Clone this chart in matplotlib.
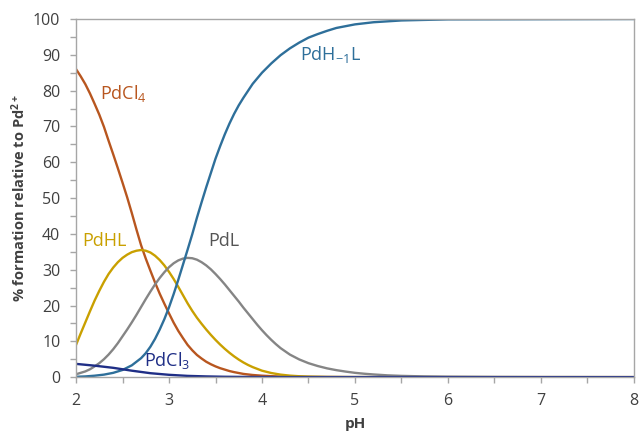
import matplotlib
matplotlib.use("Agg")
import matplotlib.pyplot as plt
from matplotlib.ticker import MultipleLocator

plt.rcParams["font.family"] = ["Open Sans", "DejaVu Sans"]
plt.rcParams["mathtext.default"] = "regular"

# values (% formation vs pH)
ph_cl4 = [2.0, 2.05, 2.1, 2.15, 2.2, 2.25, 2.3, 2.35, 2.4, 2.45, 2.5, 2.55,
          2.6, 2.65, 2.7, 2.75, 2.8, 2.85, 2.9, 2.95, 3.0, 3.05, 3.1, 3.15,
          3.2, 3.25, 3.3, 3.35, 3.4, 3.45, 3.5, 3.55, 3.6, 3.65, 3.7, 3.8,
          3.9, 4.0, 4.2, 4.5, 5.0, 8.0]
pdcl4 = [86, 84, 81.8, 79.2, 76.3, 73.3, 69.9, 66.0, 62.2, 58.3, 54.3, 50.2,
         45.8, 41.2, 36.8, 33.1, 29.7, 26.4, 23.3, 20.5, 17.8, 15.2, 12.9, 10.9,
         9.0, 7.5, 6.2, 5.2, 4.3, 3.6, 3.0, 2.5, 2.1, 1.7, 1.4, 0.9,
         0.6, 0.4, 0.15, 0.04, 0, 0]

ph_hl = [2.0, 2.05, 2.1, 2.15, 2.2, 2.25, 2.3, 2.35, 2.4, 2.45, 2.5, 2.55,
         2.6, 2.65, 2.7, 2.75, 2.8, 2.85, 2.9, 2.95, 3.0, 3.05, 3.1, 3.15,
         3.2, 3.25, 3.3, 3.35, 3.4, 3.45, 3.5, 3.55, 3.6, 3.65, 3.7, 3.75,
         3.8, 3.85, 3.9, 3.95, 4.0, 4.1, 4.2, 4.3, 4.4, 4.5, 4.7, 5.0, 8.0]
pdhl = [9.0, 12.2, 15.3, 18.4, 21.4, 24.1, 26.6, 28.8, 30.6, 32.1, 33.3, 34.2,
        34.9, 35.3, 35.5, 35.3, 34.8, 33.9, 32.7, 31.2, 29.4, 27.4, 25.2, 22.9,
        20.6, 18.5, 16.6, 14.9, 13.3, 11.8, 10.4, 9.1, 7.9, 6.8, 5.8, 4.9,
        4.1, 3.4, 2.8, 2.3, 1.8, 1.15, 0.7, 0.42, 0.25, 0.15, 0.05, 0.01, 0]

ph_l = [2.0, 2.05, 2.1, 2.15, 2.2, 2.25, 2.3, 2.35, 2.4, 2.45, 2.5, 2.55,
        2.6, 2.65, 2.7, 2.75, 2.8, 2.85, 2.9, 2.95, 3.0, 3.05, 3.1, 3.15,
        3.2, 3.25, 3.3, 3.35, 3.4, 3.45, 3.5, 3.55, 3.6, 3.65, 3.7, 3.75,
        3.8, 3.85, 3.9, 3.95, 4.0, 4.05, 4.1, 4.15, 4.2, 4.3, 4.4, 4.5,
        4.6, 4.7, 4.8, 4.9, 5.0, 5.1, 5.2, 5.35, 5.5, 5.75, 6.0, 6.5, 7.0, 8.0]
pdl = [0.8, 1.2, 1.6, 2.2, 3.0, 3.9, 5.0, 6.3, 7.8, 9.5, 11.4, 13.3,
       15.3, 17.4, 19.6, 21.8, 23.9, 25.9, 27.7, 29.3, 30.7, 31.8, 32.6, 33.1,
       33.3, 33.2, 32.8, 32.1, 31.2, 30.1, 28.8, 27.4, 25.9, 24.3, 22.7, 21.1,
       19.4, 17.8, 16.2, 14.6, 13.1, 11.7, 10.4, 9.2, 8.1, 6.3, 4.95, 3.9,
       3.1, 2.45, 1.95, 1.55, 1.2, 0.95, 0.75, 0.5, 0.35, 0.2, 0.11, 0.04, 0.01, 0]

ph_h1l = [2.0, 2.1, 2.2, 2.3, 2.4, 2.5, 2.6, 2.7, 2.75, 2.8, 2.85, 2.9, 2.95,
          3.0, 3.05, 3.1, 3.15, 3.2, 3.25, 3.3, 3.35, 3.4, 3.45, 3.5, 3.55,
          3.6, 3.65, 3.7, 3.75, 3.8, 3.9, 4.0, 4.1, 4.2, 4.3, 4.4, 4.5, 4.6,
          4.7, 4.8, 5.0, 5.2, 5.5, 6.0, 8.0]
pdh1l = [0.1, 0.2, 0.4, 0.7, 1.2, 2.0, 3.3, 5.3, 6.7, 8.5, 10.7, 13.3, 16.2,
         19.5, 23.2, 27.2, 31.4, 35.6, 39.9, 44.5, 48.8, 53.0, 57.0, 61.0, 64.5,
         67.8, 70.8, 73.5, 75.9, 78.0, 81.9, 85.0, 87.6, 89.9, 91.8, 93.4, 94.8,
         95.8, 96.7, 97.5, 98.5, 99.1, 99.6, 99.9, 100]

ph_cl3 = [2.0, 2.2, 2.4, 2.6, 2.8, 3.0, 3.2, 3.4, 3.6, 4.0, 8.0]
pdcl3 = [3.7, 3.2, 2.6, 1.8, 1.1, 0.65, 0.35, 0.2, 0.1, 0.02, 0]

c_cl4 = "#B8561F"
c_hl = "#C9A000"
c_l = "#858585"
c_h1l = "#2E6F9A"
c_cl3 = "#1F2E86"

fig = plt.figure(figsize=(6.39, 4.32), dpi=100)
ax = fig.add_axes([0.119, 0.127, 0.873, 0.829])

lw = 1.7
ax.plot(ph_cl4, pdcl4, color=c_cl4, lw=lw)
ax.plot(ph_hl, pdhl, color=c_hl, lw=lw)
ax.plot(ph_l, pdl, color=c_l, lw=lw)
ax.plot(ph_h1l, pdh1l, color=c_h1l, lw=lw)
ax.plot(ph_cl3, pdcl3, color=c_cl3, lw=lw)

# curve labels
ax.text(2.26, 79.3, "PdCl$_4$", color=c_cl4, fontsize=13, va="center")
ax.text(2.07, 38.1, "PdHL", color=c_hl, fontsize=13, va="center")
ax.text(3.42, 38.1, "PdL", color="#555555", fontsize=13, va="center")
ax.text(2.73, 4.6, "PdCl$_3$", color=c_cl3, fontsize=13, va="center")
ax.text(4.41, 90.0, "PdH$_{-1}$L", color=c_h1l, fontsize=13, va="center")

ax.set_xlim(2, 8)
ax.set_ylim(0, 100)
ax.xaxis.set_major_locator(MultipleLocator(1))
ax.xaxis.set_minor_locator(MultipleLocator(0.5))
ax.yaxis.set_major_locator(MultipleLocator(10))
ax.yaxis.set_minor_locator(MultipleLocator(5))

for s in ax.spines.values():
    s.set_color("#A6A6A6")
    s.set_linewidth(1.0)
ax.tick_params(which="both", direction="out", color="#A6A6A6", width=1,
               length=4.3, labelsize=11.5, labelcolor="#404040")
ax.tick_params(axis="y", pad=7)
ax.tick_params(axis="x", pad=7)

ax.set_xlabel("pH", fontsize=11, fontweight="bold", color="#404040")
ax.set_ylabel("% formation relative to Pd$^{2+}$", fontsize=10.5,
              fontweight="bold", color="#404040")
ax.yaxis.set_label_coords(-0.086, 0.5)
ax.xaxis.set_label_coords(0.5, -0.112)

fig.savefig("out.png", dpi=100)
